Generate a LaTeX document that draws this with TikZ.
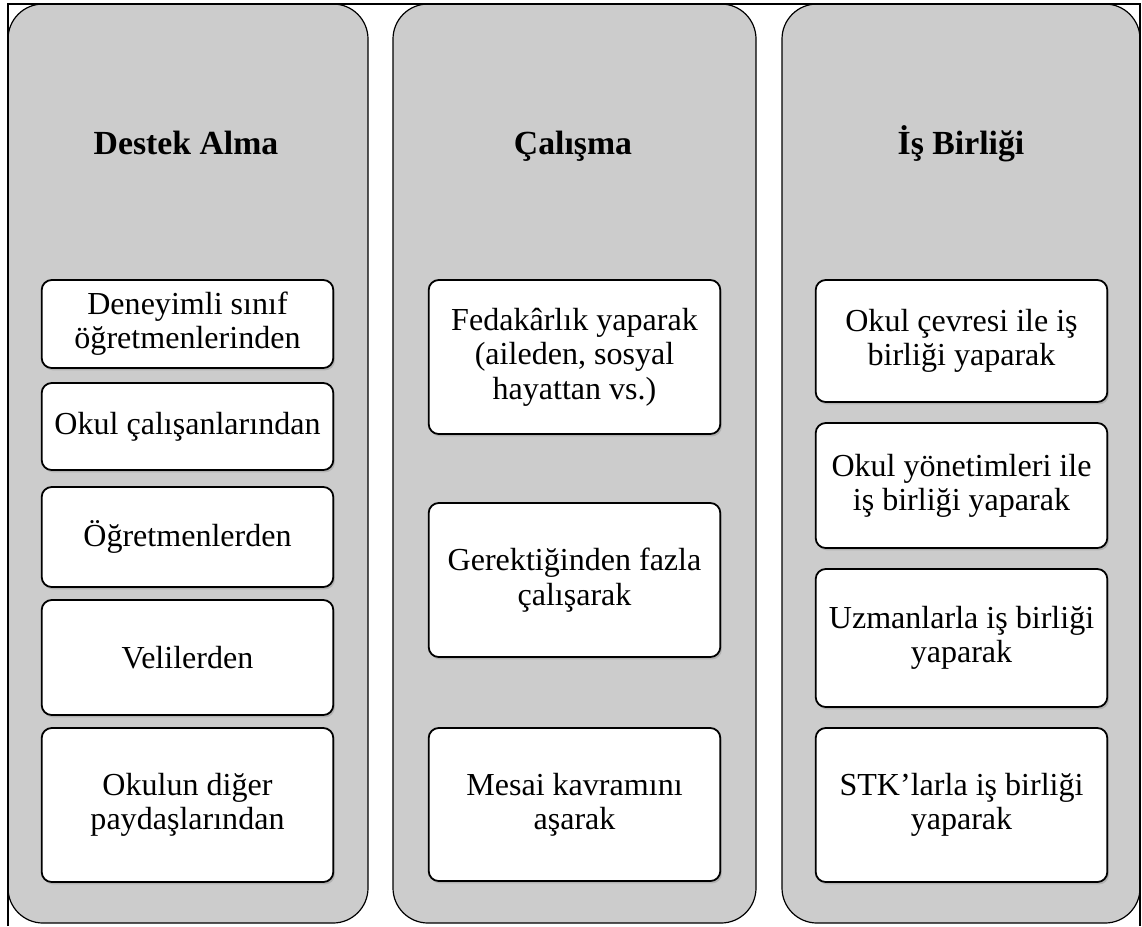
\documentclass[tikz,border=0pt]{standalone}
\usepackage{fontspec}
\setmainfont{Liberation Serif}
\usepackage{tikz}
\usetikzlibrary{shadows, positioning}
\tikzstyle{panel} = [draw=black, line width=0.3mm, fill=gray!40, rounded corners=8.75mm]
\tikzstyle{itembox} = [draw=black, line width=0.45mm, fill=white, rounded corners=2.5mm, minimum width=72.9mm, align=center, inner sep=1mm, font=\fontsize{22.8}{24.4}\selectfont, drop shadow={shadow xshift=0.4mm, shadow yshift=-0.6mm, opacity=0.35}]
\tikzstyle{heading} = [anchor=base, font=\fontsize{24}{26}\selectfont\bfseries]
\tikzstyle{frame} = [line width=0.45mm]

\begin{document}
\begin{tikzpicture}[x=0.25mm, y=-0.25mm]
            \useasboundingbox (0,0) rectangle (1142,926);

            % the three columns
            \draw [panel] (8,4) rectangle (368,923);
            \draw [panel] (393,4) rectangle (756,923);
            \draw [panel] (782,4) rectangle (1140,923);
            \draw [frame] (8,926) -- (8,4) -- (1140,4) -- (1140,926);

            \node [heading] at (186,154) (destek) {Destek Alma};
            \node [heading] at (573,154) (calisma) {Çalışma};
            \node [heading] at (961,154) (isbirligi) {İş Birliği};

            % Destek Alma
            \node [itembox, minimum height=22mm] at (187.5,324) (deneyimli) {Deneyimli sınıf\\öğretmenlerinden};
            \node [itembox, minimum height=21.75mm] at (187.5,426.5) (calisanlar) {Okul çalışanlarından};
            \node [itembox, minimum height=25mm] at (187.5,537) (ogretmen) {Öğretmenlerden};
            \node [itembox, minimum height=28.75mm] at (187.5,657.5) (veli) {Velilerden};
            \node [itembox, minimum height=38.5mm] at (187.5,805) (paydas) {Okulun diğer\\paydaşlarından};

            % Çalışma
            \node [itembox, minimum height=38.5mm] at (574.5,357) (fedakarlik) {Fedakârlık yaparak\\(aileden, sosyal\\hayattan vs.)};
            \node [itembox, minimum height=38.5mm] at (574.5,580) (fazla) {Gerektiğinden fazla\\çalışarak};
            \node [itembox, minimum height=38.25mm] at (574.5,804.5) (mesai) {Mesai kavramını\\aşarak};

            % İş Birliği
            \node [itembox, minimum height=30.5mm] at (961.5,341) (cevre) {Okul çevresi ile iş\\birliği yaparak};
            \node [itembox, minimum height=31.25mm] at (961.5,485.5) (yonetim) {Okul yönetimleri ile\\iş birliği yaparak};
            \node [itembox, minimum height=34.5mm] at (961.5,638) (uzman) {Uzmanlarla iş birliği\\yaparak};
            \node [itembox, minimum height=38.5mm] at (961.5,805) (stk) {STK’larla iş birliği\\yaparak};
          \end{tikzpicture}
\end{document}
